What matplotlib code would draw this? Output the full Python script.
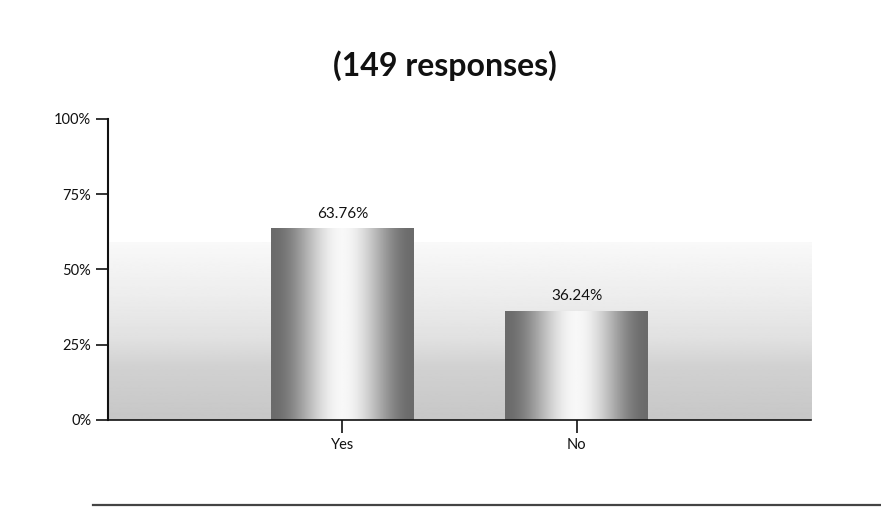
import matplotlib.pyplot as plt
import numpy as np
from matplotlib.ticker import FuncFormatter

# data
categories = ['Yes', 'No']
percents = [63.76, 36.24]
y_ticks = [0, 25, 50, 75, 100]
title = '(149 responses)'

plt.rcParams['font.family'] = ['Lato', 'DejaVu Sans']

fig = plt.figure(figsize=(8.81, 5.07), dpi=100)
ax = fig.add_axes([0.1226, 0.1716, 0.798, 0.5937])

x = np.arange(len(categories))
bars = ax.bar(x, percents, width=0.61, color='none', edgecolor='none', zorder=3)

# faded grey backdrop (scanned texture look), darker towards the bottom
bg = np.interp(np.linspace(0, 1, 200), [0, 0.3, 0.45, 0.7, 1.0],
               [0.78, 0.82, 0.88, 0.93, 0.975]).reshape(-1, 1)
ax.imshow(bg, cmap='gray', vmin=0, vmax=1, origin='lower', aspect='auto',
          extent=(0, 1, 0, 0.59), transform=ax.transAxes, zorder=1)

# cylinder shading inside each bar
prof = np.linspace(-1, 1, 300)
shade = 0.42 + 0.55 * np.cos(prof * np.pi / 2) ** 2
shade = shade.reshape(1, -1)
for b in bars:
    bx, by = b.get_x(), b.get_y()
    im = ax.imshow(shade, cmap='gray', vmin=0, vmax=1, aspect='auto',
                   extent=(bx, bx + b.get_width(), by, by + b.get_height()),
                   zorder=2)
    im.set_clip_path(b)
    ax.text(bx + b.get_width() / 2, b.get_height() + 2.5, f'{b.get_height():.2f}%',
            ha='center', va='bottom', fontsize=11, color='#111111', zorder=4)

ax.set_xlim(-1, 2)
ax.set_ylim(0, 100)

ax.set_xticks(x)
ax.set_xticklabels(categories, fontsize=10.5)
ax.set_yticks(y_ticks)
ax.yaxis.set_major_formatter(FuncFormatter(lambda v, p: f'{v:.0f}%'))
ax.tick_params(axis='y', length=9, width=1.2, labelsize=10.5, pad=3, colors='#111111')
ax.tick_params(axis='x', length=9, width=1.2, pad=4, colors='#111111')

for s in ['top', 'right']:
    ax.spines[s].set_visible(False)
ax.spines['left'].set_linewidth(1.5)
ax.spines['bottom'].set_linewidth(1.2)
ax.spines['left'].set_color('#111111')
ax.spines['bottom'].set_color('#111111')
ax.set_facecolor('white')

fig.text(0.505, 0.870, title, ha='center', va='center', fontsize=23, fontweight='bold',
         color='#111111')

# page rule at the bottom of the scan
fig.add_artist(plt.Line2D([0.105, 1.0], [0.004, 0.004], color='#444444', linewidth=1.6))

fig.savefig('out.png', dpi=100)
